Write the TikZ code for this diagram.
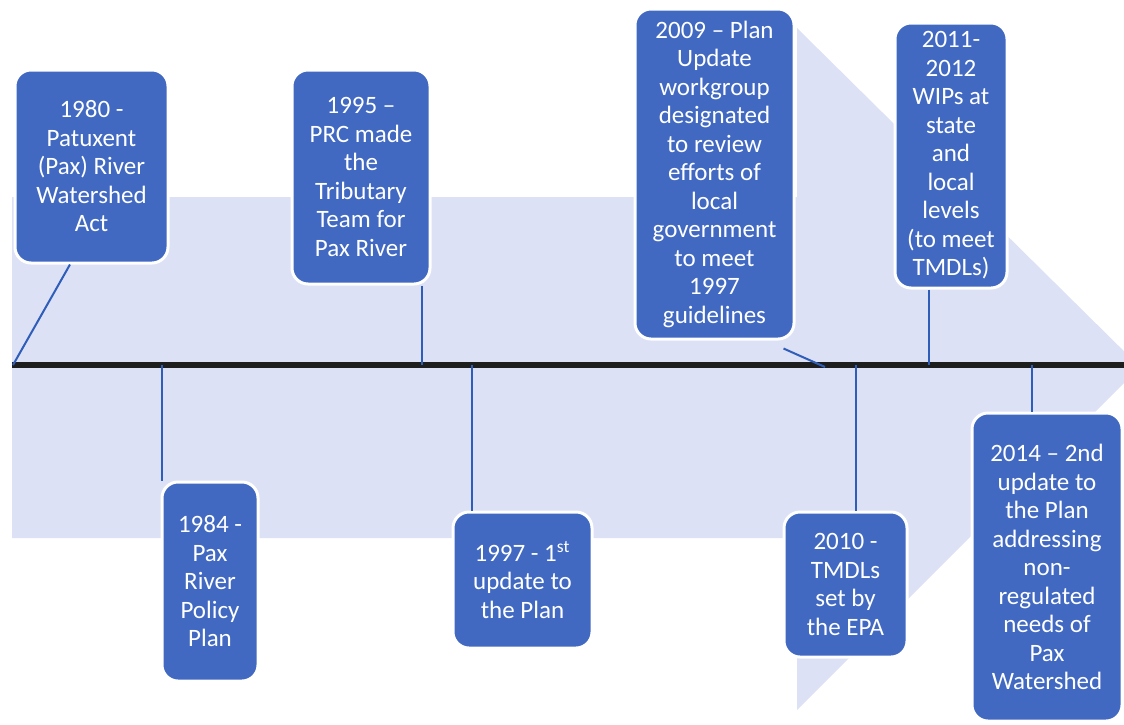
\documentclass[tikz,border=0pt]{standalone}
\usepackage{fontspec}
\setmainfont{Carlito}
\usetikzlibrary{calc}
\definecolor{boxblue}{HTML}{4169C2}
\definecolor{lav}{HTML}{DDE1F5}
\definecolor{connblue}{HTML}{2F5DBA}
\definecolor{tline}{HTML}{1E1E1E}
\begin{document}
\begin{tikzpicture}[x=0.5pt,y=-0.5pt,
  evbox/.style={draw=white, line width=1.5pt, fill=boxblue, rounded corners=8pt,
    text=white, align=center, font=\fontsize{12.5}{14.25}\selectfont, inner sep=0pt},
  conn/.style={draw=connblue, line width=1pt},
  tl/.style={draw=tline, line width=3pt}]
\useasboundingbox (0,0) rectangle (1124,724);
\clip (0,0) rectangle (1124,724);
% background arrow
\fill[lav] (12,197) -- (797,197) -- (797,28) -- (1140,367) -- (797,710) -- (797,538) -- (12,538) -- cycle;
% timeline
\coordinate (tlA) at (12,365);
\coordinate (tlB) at (1124,365);
\draw[tl] (tlA) -- (tlB);
% event boxes
\node[evbox, minimum width=76.5pt, minimum height=96.5pt] (b1980) at (91.5,166.5)
  {1980 -\\Patuxent\\(Pax) River\\Watershed\\Act};
\node[evbox, minimum width=48pt, minimum height=99.5pt] (b1984) at (210,581.5)
  {1984 -\\Pax\\River\\Policy\\Plan};
\node[evbox, minimum width=69pt, minimum height=107pt] (b1995) at (361,177)
  {1995 –\\PRC made\\the\\Tributary\\Team for\\Pax River};
\node[evbox, minimum width=69.5pt, minimum height=68pt] (b1997) at (522.5,580)
  {1997 - 1\textsuperscript{st}\\update to\\the Plan};
\node[evbox, minimum width=79.5pt, minimum height=165pt] (b2009) at (714.5,174)
  {2009 – Plan\\Update\\workgroup\\designated\\to review\\efforts of\\local\\government\\to meet\\1997\\guidelines};
\node[evbox, minimum width=61.5pt, minimum height=72.5pt] (b2010) at (845.5,584.5)
  {2010 -\\TMDLs\\set by\\the EPA};
\node[evbox, minimum width=56pt, minimum height=132.5pt] (b2011) at (951,155.5)
  {2011-\\2012\\WIPs at\\state\\and\\local\\levels\\(to meet\\TMDLs)};
\node[evbox, minimum width=75pt, minimum height=154pt] (b2014) at (1047,567)
  {2014 – 2nd\\update to\\the Plan\\addressing\\non-\\regulated\\needs of\\Pax\\Watershed};
% connector points on the timeline
\coordinate (t1980) at (13,365);
\coordinate (t1984) at (162,365);
\coordinate (t1995) at (422,365);
\coordinate (t1997) at (472,365);
\coordinate (t2009) at (825,367);
\coordinate (t2010) at (856,365);
\coordinate (t2011) at (929,365);
\coordinate (t2014) at (1032,365);
% connectors
\draw[conn] ($(b1980.south)+(-21.5,0)$) -- (t1980);
\draw[conn] (b1984.north -| t1984) -- (t1984);
\draw[conn] (b1995.south -| t1995) -- (t1995);
\draw[conn] (b1997.north -| t1997) -- (t1997);
\draw[conn] ($(b2009.south east)+(-12,8)$) -- (t2009);
\draw[conn] (b2010.north -| t2010) -- (t2010);
\draw[conn] (b2011.south -| t2011) -- (t2011);
\draw[conn] (b2014.north -| t2014) -- (t2014);
\end{tikzpicture}
\end{document}
